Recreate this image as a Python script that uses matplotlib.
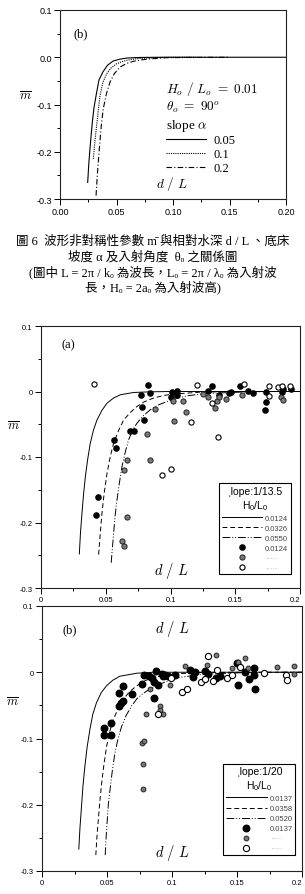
import numpy as np
import matplotlib.pyplot as plt
from matplotlib.lines import Line2D
from matplotlib.ticker import MultipleLocator, FixedLocator, FixedFormatter

plt.rcParams['mathtext.fontset'] = 'cm'
plt.rcParams['font.family'] = ['Liberation Sans', 'DejaVu Sans']

# ---------------- 上圖 (b): 理論曲線，不同坡度
top_slopes = ['0.05', '0.1', '0.2']
top_x_005 = [0.0245, 0.0255, 0.027, 0.0285, 0.030, 0.032, 0.0345, 0.038, 0.042, 0.047, 0.053, 0.060, 0.070, 0.090, 0.200]
top_y_005 = [-0.265, -0.225, -0.18, -0.14, -0.108, -0.08, -0.048, -0.031, -0.017, -0.008, -0.004, -0.0015, -0.0005, 0.0, 0.0]
top_x_01 = [0.0295, 0.031, 0.0324, 0.034, 0.0354, 0.038, 0.0413, 0.045, 0.050, 0.055, 0.062, 0.070, 0.080, 0.090, 0.100, 0.120]
top_y_01 = [-0.215, -0.175, -0.145, -0.11, -0.081, -0.053, -0.035, -0.023, -0.014, -0.009, -0.005, -0.0025, -0.0015, -0.0005, 0.0, 0.0]
top_x_02 = [0.0319, 0.033, 0.0348, 0.0365, 0.0383, 0.041, 0.0442, 0.048, 0.053, 0.059, 0.065, 0.072, 0.080, 0.094, 0.120, 0.150]
top_y_02 = [-0.293, -0.25, -0.194, -0.145, -0.109, -0.078, -0.053, -0.035, -0.021, -0.013, -0.0085, -0.0055, -0.0035, -0.001, -0.0003, 0.0]
top_xticks = [0.0, 0.05, 0.10, 0.15, 0.20]
top_xlabels = ['0.00', '0.05', '0.10', '0.15', '0.20']
top_yticks = [0.1, 0.0, -0.1, -0.2, -0.3]
top_ylabels = ['0.1', '0.0', '-0.1', '-0.2', '-0.3']

# ---------------- (a) slope 1/13.5
a_hl = ['0.0124', '0.0326', '0.0550']
a_x1 = [0.0296, 0.0305, 0.0316, 0.0328, 0.0342, 0.036, 0.038, 0.0405, 0.0432, 0.047, 0.0509, 0.056, 0.0612, 0.0715, 0.0843, 0.100, 0.200]
a_y1 = [-0.248, -0.215, -0.187, -0.158, -0.131, -0.104, -0.0795, -0.059, -0.0436, -0.029, -0.018, -0.010, -0.005, -0.0015, -0.0005, 0.0, 0.0]
a_x2 = [0.0445, 0.0457, 0.047, 0.0488, 0.0509, 0.0533, 0.056, 0.0598, 0.0638, 0.069, 0.074, 0.080, 0.0869, 0.095, 0.1023, 0.123, 0.150, 0.200]
a_y2 = [-0.249, -0.218, -0.187, -0.155, -0.126, -0.101, -0.0795, -0.060, -0.0436, -0.032, -0.023, -0.0155, -0.010, -0.006, -0.004, -0.001, 0.0, 0.0]
a_x3 = [0.0542, 0.056, 0.0572, 0.0586, 0.0605, 0.0625, 0.065, 0.0676, 0.0705, 0.074, 0.079, 0.0843, 0.090, 0.0972, 0.105, 0.1126, 0.123, 0.133, 0.1537, 0.180, 0.200]
a_y3 = [-0.2615, -0.218, -0.19, -0.1667, -0.14, -0.115, -0.093, -0.074, -0.060, -0.0487, -0.037, -0.028, -0.021, -0.0154, -0.0105, -0.0067, -0.004, -0.0026, -0.001, 0.0, 0.0]
# 實驗點
a_blk_x = [0.0771, 0.0825, 0.0843, 0.0779, 0.0797, 0.0566, 0.0576, 0.0684, 0.072, 0.044, 0.0427, 0.101, 0.105, 0.1054, 0.100,
           0.129, 0.132, 0.1375, 0.1455, 0.147, 0.154, 0.160, 0.164, 0.173, 0.174, 0.1735, 0.186, 0.193, 0.187]
a_blk_y = [-0.005, 0.010, -0.0026, -0.024, -0.044, -0.074, -0.086, -0.060, -0.061, -0.161, -0.188, 0.0, 0.001, -0.005, -0.009,
           0.0015, 0.0077, -0.006, -0.0026, -0.0005, 0.0077, 0.0015, -0.0026, -0.028, -0.001, -0.016, 0.0, 0.0036, 0.0036]
a_gry_x = [0.082, 0.0838, 0.088, 0.0663, 0.064, 0.0663, 0.0625, 0.064, 0.102, 0.1095, 0.103, 0.112, 0.125, 0.1293,
           0.1344, 0.1357, 0.1427, 0.1375, 0.155, 0.1853, 0.187]
a_gry_y = [-0.065, -0.105, -0.027, -0.105, -0.1205, -0.191, -0.229, -0.236, -0.014, -0.014, -0.045, -0.032, -0.004, -0.0077,
           -0.0246, -0.014, -0.012, -0.009, -0.005, -0.0087, -0.0128]
a_opn_x = [0.0411, 0.1203, 0.1157, 0.1365, 0.0933, 0.100, 0.132, 0.157, 0.176, 0.176, 0.183, 0.186, 0.192]
a_opn_y = [0.0118, 0.0103, -0.047, -0.069, -0.127, -0.118, -0.017, 0.0118, 0.0077, -0.0067, 0.0067, 0.0077, 0.0087]

# ---------------- (b) slope 1/20
b_hl = ['0.0137', '0.0358', '0.0520']
b_x1 = [0.0283, 0.0292, 0.0303, 0.0315, 0.0329, 0.0347, 0.0368, 0.039, 0.0419, 0.0455, 0.0496, 0.0545, 0.0599, 0.0728, 0.0856, 0.200]
b_y1 = [-0.267, -0.235, -0.205, -0.172, -0.1436, -0.113, -0.087, -0.064, -0.046, -0.031, -0.0205, -0.012, -0.006, -0.0015, 0.0, 0.0]
b_x2 = [0.0414, 0.0422, 0.0432, 0.0444, 0.0458, 0.0476, 0.0496, 0.052, 0.0548, 0.0585, 0.0625, 0.067, 0.0728, 0.079, 0.0856, 0.101, 0.1216, 0.150, 0.200]
b_y2 = [-0.276, -0.25, -0.2256, -0.197, -0.169, -0.14, -0.1128, -0.090, -0.0718, -0.055, -0.041, -0.030, -0.0205, -0.013, -0.0077, -0.0026, -0.0005, 0.0, 0.0]
b_x3 = [0.0486, 0.0493, 0.0501, 0.051, 0.0522, 0.054, 0.056, 0.0585, 0.0612, 0.0648, 0.0689, 0.073, 0.0779, 0.084, 0.0907, 0.098, 0.1062, 0.1216, 0.1473, 0.180, 0.200]
b_y3 = [-0.276, -0.25, -0.2256, -0.200, -0.1795, -0.150, -0.123, -0.100, -0.082, -0.065, -0.051, -0.040, -0.0318, -0.024, -0.018, -0.012, -0.0077, -0.0036, -0.001, 0.0, 0.0]
b_blk_x = [0.0478, 0.053, 0.0478, 0.053, 0.0591, 0.0605, 0.0625, 0.0591, 0.0625, 0.0689, 0.0766, 0.0784, 0.0825, 0.0843,
           0.0861, 0.0895, 0.0864, 0.088, 0.092, 0.0933, 0.0946, 0.097, 0.1023, 0.1139, 0.1177, 0.1165, 0.1254, 0.128,
           0.134, 0.137, 0.151, 0.150, 0.156, 0.1596, 0.163, 0.163, 0.164]
b_blk_y = [-0.0846, -0.077, -0.095, -0.095, -0.051, -0.047, -0.0436, -0.032, -0.0215, -0.033, -0.018, -0.004, -0.005, -0.009,
           -0.0144, -0.0195, -0.0385, 0.002, -0.003, -0.006, -0.004, -0.005, -0.0036, 0.0036, 0.0, -0.0077, 0.0026, -0.0026,
           -0.009, -0.005, -0.0195, 0.014, 0.0, -0.010, 0.006, -0.004, -0.0256]
b_gry_x = [0.083, 0.080, 0.0907, 0.0907, 0.0928, 0.0771, 0.0787, 0.0779, 0.0774, 0.0985, 0.110, 0.1267, 0.134,
           0.1465, 0.151, 0.1558, 0.1581, 0.181, 0.1936, 0.1936]
b_gry_y = [-0.0246, -0.0626, -0.051, -0.0574, -0.0626, -0.1067, -0.104, -0.1385, -0.176, -0.0195, 0.0092, 0.0103, 0.0267,
           0.006, 0.0154, 0.022, 0.0067, 0.0077, 0.010, -0.0026]
b_opn_x = [0.089, 0.1075, 0.1118, 0.1224, 0.1254, 0.128, 0.135, 0.1318, 0.1422, 0.146, 0.152, 0.1704, 0.188, 0.1884, 0.0992]
b_opn_y = [-0.063, -0.030, -0.0246, -0.0144, -0.010, 0.0246, 0.004, -0.0128, -0.009, -0.004, 0.0077, -0.0015, -0.004, -0.0113, -0.009]

ab_xticks = [0.0, 0.05, 0.1, 0.15, 0.2]
ab_xlabels = ['0', '0.05', '0.1', '0.15', '0.2']
ab_yticks = [0.1, 0.0, -0.1, -0.2, -0.3]
ab_ylabels = ['0.1', '0', '-0.1', '-0.2', '-0.3']

caption = ['圖 6  波形非對稱性參數 m\u0304 與相對水深 d / L 、底床',
           '坡度 α 及入射角度  θₒ 之關係圖',
           '(圖中 L = 2π / kₒ 為波長，Lₒ = 2π / λₒ 為入射波',
           '長，Hₒ = 2aₒ 為入射波高)']

W, H = 305, 895
fig = plt.figure(figsize=(W / 100, H / 100), dpi=100)


def px_axes(l, t, r, b):
    return fig.add_axes([l / W, 1 - b / H, (r - l) / W, (b - t) / H])


def style_axes(ax, xt, xl, yt, yl, fs, xminor):
    ax.set_xlim(0, 0.2)
    ax.set_ylim(-0.3, 0.1)
    ax.xaxis.set_major_locator(FixedLocator(xt))
    ax.xaxis.set_major_formatter(FixedFormatter(xl))
    ax.yaxis.set_major_locator(FixedLocator(yt))
    ax.yaxis.set_major_formatter(FixedFormatter(yl))
    ax.xaxis.set_minor_locator(MultipleLocator(xminor))
    ax.yaxis.set_minor_locator(MultipleLocator(0.05))
    ax.tick_params(which='major', length=4, width=0.7, labelsize=fs, pad=2)
    ax.tick_params(which='minor', length=2.5, width=0.7)
    for s in ax.spines.values():
        s.set_linewidth(0.8)
        s.set_color('#222222')


# ---- top panel
ax0 = px_axes(60, 11, 286, 200)
style_axes(ax0, top_xticks, top_xlabels, top_yticks, top_ylabels, 6.5, 0.025)
ax0.plot(top_x_005, top_y_005, color='k', lw=0.8, label=top_slopes[0])
ax0.plot(top_x_01, top_y_01, color='k', lw=0.8, ls=(0, (1, 1)), label=top_slopes[1])
ax0.plot(top_x_02, top_y_02, color='k', lw=0.8, ls=(0, (5, 2, 1, 2)), label=top_slopes[2])
leg0 = ax0.legend(title=r'$H_o\ /\ L_o\ =\ 0.01$' + '\n' + r'$\theta_o\ =\ 90^o$' + '\n' + r'slope $\alpha$',
                  loc='upper left', bbox_to_anchor=(0.44, 0.67), frameon=False, borderpad=0,
                  prop={'family': 'Liberation Serif', 'size': 9}, handlelength=3.2, handletextpad=0.6,
                  labelspacing=0.15, alignment='left')
leg0.get_title().set_fontsize(9.5)
leg0.get_title().set_family('Liberation Serif')
ax0.text(0.06, 0.86, '(b)', transform=ax0.transAxes, fontsize=9, family='Liberation Serif')
ax0.text(0.496, 0.035, r'$d\ /\ L$', transform=ax0.transAxes, fontsize=9.5, ha='center', va='bottom')
fig.text(25 / W, 1 - 97 / H, r'$\overline{m}$', fontsize=9, ha='center', va='center')

# ---- caption
for i, line in enumerate(caption):
    fig.text(0.5, 1 - (242 + 15 * i) / H, line, ha='center', va='center', fontsize=9,
             family=['Liberation Serif', 'Noto Sans CJK TC', 'DejaVu Serif'])


def panel(ax, x1, y1, x2, y2, x3, y3, hl, blk, gry, opn, sizes):
    style_axes(ax, ab_xticks, ab_xlabels, ab_yticks, ab_ylabels, 5.5, 0.025)
    # 最右的 0.2 在頁邊被截，改為靠右對齊
    ax.get_xticklabels()[-1].set_horizontalalignment('right')
    ax.plot(x1, y1, color='k', lw=0.7)
    ax.plot(x2, y2, color='k', lw=0.7, ls=(0, (5, 3)))
    ax.plot(x3, y3, color='k', lw=0.7, ls=(0, (8, 2, 1, 2, 1, 2)))
    ax.scatter(*blk, s=sizes[0], color='k', zorder=3)
    ax.scatter(*gry, s=sizes[1], facecolor='#7a7a7a', edgecolor='#222222', linewidth=0.7, zorder=3)
    ax.scatter(*opn, s=sizes[2], facecolor='white', edgecolor='k', linewidth=0.8, zorder=3)
    handles = [Line2D([], [], color='k', lw=0.7),
               Line2D([], [], color='k', lw=0.7, ls=(0, (5, 3))),
               Line2D([], [], color='k', lw=0.7, ls=(0, (8, 2, 1, 2, 1, 2))),
               Line2D([], [], ls='none', marker='o', ms=np.sqrt(sizes[0]), color='k'),
               Line2D([], [], ls='none', marker='o', ms=np.sqrt(sizes[1]), mfc='#7a7a7a', mec='#222222', mew=0.7),
               Line2D([], [], ls='none', marker='o', ms=np.sqrt(sizes[2]), mfc='white', mec='k', mew=0.8)]
    labels = hl + [hl[0], '·····', '·····']
    return handles, labels


def panel_legend(ax, h, l, title, anchor):
    leg = ax.legend(h, l, title='\u02cc' + title + '\n' + r'$\mathregular{H_0/L_0}$',
                    loc='upper right', bbox_to_anchor=anchor, borderaxespad=0, fancybox=False,
                    edgecolor='k', fontsize=5.5, handlelength=5.3, handletextpad=0.4, labelspacing=0.35,
                    borderpad=0.35, framealpha=1)
    leg.get_frame().set_linewidth(0.8)
    leg.get_title().set_fontsize(7.5)
    leg.get_title().set_multialignment('center')
    for t in leg.get_texts():
        t.set_color('#444444')
    for t in leg.get_texts()[4:]:
        t.set_color('#aaaaaa')


# ---- (a)
ax1 = px_axes(41, 327, 300, 589)
h, l = panel(ax1, a_x1, a_y1, a_x2, a_y2, a_x3, a_y3, a_hl,
             (a_blk_x, a_blk_y), (a_gry_x, a_gry_y), (a_opn_x, a_opn_y), (14, 14, 14))
panel_legend(ax1, h, l, 'lope:1/13.5', (0.965, 0.40))
ax1.text(0.08, 0.92, '(a)', transform=ax1.transAxes, fontsize=9, family='Liberation Serif')
ax1.text(0.502, 0.03, r'$d\ /\ L$', transform=ax1.transAxes, fontsize=10.5, ha='center', va='bottom')
fig.text(13 / W, 1 - 427 / H, r'$\overline{m}$', fontsize=9, ha='center', va='center')

# ---- (b)
ax2 = px_axes(42, 607, 302, 872)
h, l = panel(ax2, b_x1, b_y1, b_x2, b_y2, b_x3, b_y3, b_hl,
             (b_blk_x, b_blk_y), (b_gry_x, b_gry_y), (b_opn_x, b_opn_y), (22, 12, 20))
panel_legend(ax2, h, l, 'lope:1/20', (0.975, 0.405))
ax2.text(0.08, 0.9, '(b)', transform=ax2.transAxes, fontsize=9, family='Liberation Serif')
ax2.text(0.5, 0.88, r'$d\ /\ L$', transform=ax2.transAxes, fontsize=10.5, ha='center', va='bottom')
ax2.text(0.5, 0.035, r'$d\ /\ L$', transform=ax2.transAxes, fontsize=10.5, ha='center', va='bottom')
fig.text(12 / W, 1 - 703 / H, r'$\overline{m}$', fontsize=9, ha='center', va='center')

fig.savefig('out.png', dpi=100)
